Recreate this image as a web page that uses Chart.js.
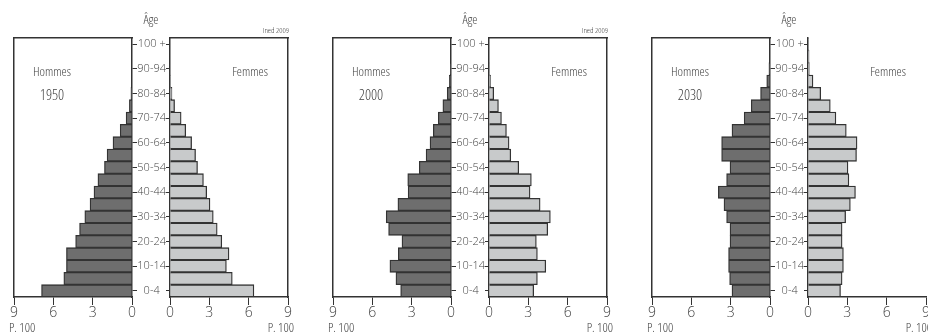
<!DOCTYPE html>
<html>
<head>
<meta charset="utf-8">
<script src="https://cdn.jsdelivr.net/npm/chart.js@4/dist/chart.umd.min.js"></script>
<style>
  html, body { margin: 0; padding: 0; background: #fff; }
  #page { position: relative; width: 928px; height: 336px; overflow: hidden; background: #fff; }
  #page canvas { position: absolute; top: 0; }
  .txt { position: absolute; color: #444; white-space: nowrap; line-height: 1; font-weight: 300;
         font-family: "Open Sans", "Liberation Sans", sans-serif; font-stretch: condensed; }
</style>
</head>
<body>
<div id="page"></div>
<script>
// age groups, bottom to top
const ages = ['0-4', '5-9', '10-14', '15-19', '20-24', '25-29', '30-34', '35-39', '40-44', '45-49',
  '50-54', '55-59', '60-64', '65-69', '70-74', '75-79', '80-84', '85-89', '90-94', '95-99', '100 +'];

const years = ['1950', '2000', '2030'];

// pour 100 habitants
const hommes1950 = [6.9, 5.2, 5.0, 5.0, 4.3, 4.0, 3.6, 3.2, 2.9, 2.6, 2.1, 1.9, 1.45, 0.9, 0.45, 0.2, 0.08, 0, 0, 0, 0];
const femmes1950 = [6.4, 4.75, 4.3, 4.5, 3.95, 3.6, 3.3, 3.05, 2.8, 2.55, 2.1, 1.95, 1.65, 1.2, 0.85, 0.35, 0.15, 0.05, 0, 0, 0];
const hommes2000 = [3.84, 4.2, 4.66, 4.02, 3.74, 4.76, 4.94, 4.05, 3.27, 3.3, 2.42, 1.9, 1.6, 1.35, 0.97, 0.62, 0.29, 0.13, 0.05, 0, 0];
const femmes2000 = [3.41, 3.69, 4.33, 3.69, 3.61, 4.48, 4.68, 3.9, 3.13, 3.23, 2.27, 1.66, 1.53, 1.33, 0.95, 0.72, 0.36, 0.12, 0.04, 0, 0];
const hommes2030 = [2.9, 3.08, 3.16, 3.16, 3.05, 3.05, 3.31, 3.51, 3.94, 3.31, 3.05, 3.69, 3.69, 2.9, 1.97, 1.43, 0.72, 0.25, 0.08, 0, 0];
const femmes2030 = [2.48, 2.6, 2.7, 2.7, 2.6, 2.6, 2.87, 3.23, 3.62, 3.12, 3.05, 3.7, 3.74, 2.92, 2.13, 1.7, 0.97, 0.38, 0.1, 0.08, 0.05];

const xTicks = [0, 3, 6, 9];

const hommes = [hommes1950, hommes2000, hommes2030];
const femmes = [femmes1950, femmes2000, femmes2030];

const FONT = '"Open Sans", "Liberation Sans", sans-serif';
const STRETCH = 'normal condensed'; // passed as font "style" so the canvas picks the narrow width
const LINE = '#333';
const page = document.getElementById('page');

function addText(str, x, y, size, align) {
    const d = document.createElement('div');
    d.className = 'txt';
    d.textContent = str;
    d.style.fontSize = size + 'px';
    d.style.top = (y - size * 0.55) + 'px';
    if (align === 'right') {
        d.style.right = (928 - x) + 'px';
    } else if (align === 'center') {
        d.style.left = (x - 60) + 'px';
        d.style.width = '120px';
        d.style.textAlign = 'center';
    } else {
        d.style.left = x + 'px';
    }
    page.appendChild(d);
}

function addCanvas(left, width) {
    const c = document.createElement('canvas');
    c.width = width;
    c.height = 336;
    c.style.left = left + 'px';
    c.style.width = width + 'px';
    c.style.height = '336px';
    page.appendChild(c);
    return c;
}

// bordure seule (cadre du panneau)
function edgeAxis(position, show) {
    const horiz = position === 'top' || position === 'bottom';
    return {
        type: 'linear',
        position: position,
        display: show,
        ticks: { display: false },
        grid: { display: false },
        border: { color: LINE, width: 1.5 },
        afterFit: (s) => { if (horiz) s.height = 0; else s.width = 0; }
    };
}

function xAxis(reverse) {
    return {
        type: 'linear',
        position: 'bottom',
        min: 0,
        max: 9,
        reverse: reverse,
        afterBuildTicks: (s) => { s.ticks = xTicks.map(v => ({ value: v })); },
        ticks: { color: '#444', padding: 0, font: { family: FONT, size: 14, style: STRETCH, weight: 300 } },
        grid: { drawOnChartArea: false, tickLength: 8, color: LINE, lineWidth: 1 },
        border: { color: LINE, width: 1.5 },
        afterFit: (s) => { s.height = 39; }
    };
}

const tickColor = (c) => (c.index % 2 === 0 ? LINE : 'rgba(0,0,0,0)');

function pyramid(p) {
    const o = p * 319;
    const last = p === 2;

    // Hommes
    new Chart(addCanvas(o, 140), {
        type: 'bar',
        data: {
            labels: ages,
            datasets: [{
                data: hommes[p],
                backgroundColor: '#6e6e6e',
                borderColor: LINE,
                borderWidth: 1.3,
                barPercentage: 1,
                categoryPercentage: 1
            }]
        },
        options: {
            indexAxis: 'y',
            responsive: false,
            animation: false,
            devicePixelRatio: 1,
            layout: { padding: { left: 14, top: 38, right: 0, bottom: 0 } },
            plugins: { legend: { display: false }, tooltip: { enabled: false } },
            scales: {
                x: xAxis(true),
                y: {
                    type: 'category',
                    position: 'right',
                    reverse: true,
                    ticks: { display: false, autoSkip: false },
                    grid: { drawOnChartArea: false, offset: false, tickLength: 5, color: tickColor },
                    border: { color: LINE, width: 1.5 },
                    afterFit: (s) => { s.width = 8; }
                },
                edgeL: edgeAxis('left', true),
                edgeT: edgeAxis('top', true)
            }
        }
    });

    // Femmes
    new Chart(addCanvas(o + 132, 168), {
        type: 'bar',
        data: {
            labels: ages,
            datasets: [{
                data: femmes[p],
                backgroundColor: '#c8cacb',
                borderColor: LINE,
                borderWidth: 1.3,
                barPercentage: 1,
                categoryPercentage: 1
            }]
        },
        options: {
            indexAxis: 'y',
            responsive: false,
            animation: false,
            devicePixelRatio: 1,
            layout: { padding: { left: 0, top: 38, right: 12, bottom: 0 } },
            plugins: { legend: { display: false }, tooltip: { enabled: false } },
            scales: {
                x: xAxis(false),
                y: {
                    type: 'category',
                    position: 'left',
                    reverse: true,
                    ticks: {
                        autoSkip: false,
                        crossAlign: 'center',
                        padding: 0,
                        color: '#444',
                        font: { family: FONT, size: 11, style: STRETCH, weight: 300 },
                        callback: function (v, i) { return i % 2 === 0 ? this.getLabelForValue(v) : ''; }
                    },
                    grid: { drawOnChartArea: false, offset: false, tickLength: 4, color: tickColor },
                    border: { color: LINE, width: 1.5 },
                    afterFit: (s) => { s.width = 38; }
                },
                edgeR: edgeAxis('right', !last),
                edgeT: edgeAxis('top', !last)
            }
        }
    });

    addText('Âge', o + 151, 20, 13, 'center');
    if (!last) addText('Ined 2009', o + 289, 30, 8, 'right');
    addText('Hommes', o + 52, 72, 13, 'center');
    addText(years[p], o + 52, 95, 15, 'center');
    addText('Femmes', o + 250, 72, 13, 'center');
    addText('P. 100', o + 9, 328, 13, 'left');
    addText('P. 100', o + 294, 328, 13, 'right');
}

[0, 1, 2].forEach(pyramid);
</script>
</body>
</html>
